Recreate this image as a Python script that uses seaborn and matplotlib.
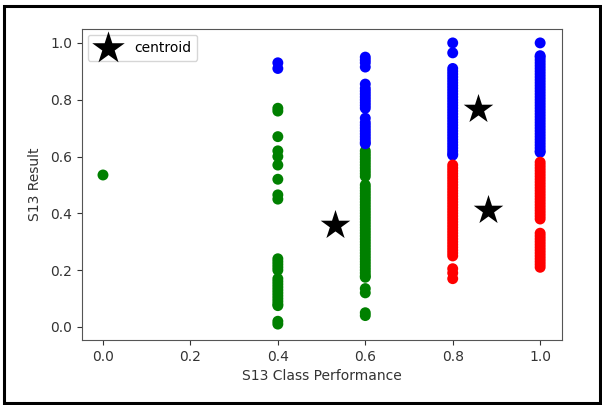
import matplotlib
matplotlib.use("Agg")
import matplotlib.pyplot as plt
from matplotlib.patches import Rectangle
import pandas as pd
import seaborn as sns

# --- data ---
green_x_zero = [0.0]
green_y_zero = [0.535]

green_y_04 = [0.77, 0.76, 0.67, 0.62, 0.60, 0.57, 0.52, 0.465, 0.45,
              0.24, 0.23, 0.22, 0.21, 0.20, 0.17, 0.16, 0.15, 0.14, 0.13,
              0.12, 0.11, 0.10, 0.09, 0.08, 0.075, 0.02, 0.01]
green_y_06 = [0.62, 0.61, 0.60, 0.59, 0.58, 0.57, 0.56, 0.55, 0.54, 0.53,
              0.50, 0.49, 0.48, 0.47, 0.46, 0.45, 0.44, 0.43, 0.42, 0.41,
              0.40, 0.39, 0.38, 0.37, 0.36, 0.35, 0.34, 0.33, 0.32, 0.31,
              0.30, 0.29, 0.28, 0.27, 0.26, 0.25, 0.24, 0.23, 0.22, 0.21,
              0.20, 0.19, 0.18, 0.175, 0.135, 0.12, 0.05, 0.04]

blue_y_04 = [0.93, 0.91]
blue_y_06 = [0.95, 0.94, 0.93, 0.915, 0.855, 0.84, 0.83, 0.82, 0.81, 0.80,
             0.79, 0.78, 0.77, 0.735, 0.72, 0.71, 0.70, 0.69, 0.68, 0.67,
             0.66, 0.65, 0.645]
blue_y_08 = [1.0, 0.965, 0.91, 0.90, 0.89, 0.88, 0.87, 0.86, 0.85, 0.84,
             0.83, 0.82, 0.81, 0.80, 0.79, 0.78, 0.77, 0.76, 0.75, 0.74,
             0.73, 0.72, 0.71, 0.70, 0.69, 0.68, 0.67, 0.66, 0.65, 0.64,
             0.63, 0.62, 0.61, 0.605]
blue_y_10 = [1.0, 0.955, 0.95, 0.94, 0.93, 0.92, 0.91, 0.90, 0.89, 0.88,
             0.87, 0.86, 0.85, 0.84, 0.83, 0.82, 0.81, 0.80, 0.79, 0.78,
             0.77, 0.76, 0.75, 0.74, 0.73, 0.72, 0.71, 0.70, 0.69, 0.68,
             0.67, 0.66, 0.65, 0.64, 0.63, 0.62, 0.615]

red_y_08 = [0.57, 0.56, 0.55, 0.54, 0.53, 0.52, 0.51, 0.50, 0.49, 0.48,
            0.47, 0.46, 0.45, 0.44, 0.43, 0.42, 0.41, 0.40, 0.39, 0.38,
            0.37, 0.36, 0.35, 0.34, 0.33, 0.32, 0.31, 0.30, 0.29, 0.28,
            0.27, 0.26, 0.25, 0.205, 0.19, 0.17]
red_y_10 = [0.58, 0.57, 0.56, 0.55, 0.54, 0.53, 0.52, 0.51, 0.50, 0.49,
            0.48, 0.47, 0.46, 0.45, 0.44, 0.43, 0.42, 0.41, 0.40, 0.39,
            0.38, 0.33, 0.32, 0.31, 0.30, 0.29, 0.28, 0.27, 0.26, 0.25,
            0.24, 0.23, 0.22, 0.21]

centroid_x = [0.531, 0.858, 0.881]
centroid_y = [0.358, 0.766, 0.411]

cluster_names = ["green", "blue", "red"]

green_x = green_x_zero + [0.4] * len(green_y_04) + [0.6] * len(green_y_06)
green_y = green_y_zero + green_y_04 + green_y_06
blue_x = ([0.4] * len(blue_y_04) + [0.6] * len(blue_y_06)
          + [0.8] * len(blue_y_08) + [1.0] * len(blue_y_10))
blue_y = blue_y_04 + blue_y_06 + blue_y_08 + blue_y_10
red_x = [0.8] * len(red_y_08) + [1.0] * len(red_y_10)
red_y = red_y_08 + red_y_10

df = pd.DataFrame({
    "S13 Class Performance": green_x + blue_x + red_x,
    "S13 Result": green_y + blue_y + red_y,
    "cluster": (["green"] * len(green_x) + ["blue"] * len(blue_x)
                + ["red"] * len(red_x)),
})
cent = pd.DataFrame({"S13 Class Performance": centroid_x,
                     "S13 Result": centroid_y})

plt.rcParams["font.family"] = ["DejaVu Sans"]
fs = 10

fig = plt.figure(figsize=(6.02, 4.05), dpi=100)
ax = fig.add_axes([82 / 602, 1 - 340 / 405, 480 / 602, 311 / 405])

sns.scatterplot(data=df, x="S13 Class Performance", y="S13 Result",
                hue="cluster", hue_order=cluster_names,
                palette={"green": "green", "blue": "blue", "red": "red"},
                s=62, linewidth=0, legend=False, ax=ax)
sns.scatterplot(data=cent, x="S13 Class Performance", y="S13 Result",
                marker="*", s=500, color="black", linewidth=0,
                label="centroid", ax=ax)

ax.set_xticks([0.0, 0.2, 0.4, 0.6, 0.8, 1.0])
ax.set_yticks([0.0, 0.2, 0.4, 0.6, 0.8, 1.0])
ax.set_xlim(-0.048, 1.05)
ax.set_ylim(-0.046, 1.049)
ax.tick_params(labelsize=fs, colors="#333333")
for sp in ax.spines.values():
    sp.set_color("#555555")
ax.set_xlabel("S13 Class Performance", fontsize=fs, color="#333333")
ax.set_ylabel("S13 Result", fontsize=fs, color="#333333", labelpad=6)
ax.legend(loc="upper left", fontsize=fs, borderpad=0.45, handletextpad=0.9,
          borderaxespad=0.4, markerscale=1.1)

fig.patches.append(Rectangle((3.5 / 602, 1 - 403 / 405), 596 / 602, 397 / 405,
                             transform=fig.transFigure, fill=False,
                             lw=2.2, ec="black"))

fig.savefig("out.png", dpi=100)
